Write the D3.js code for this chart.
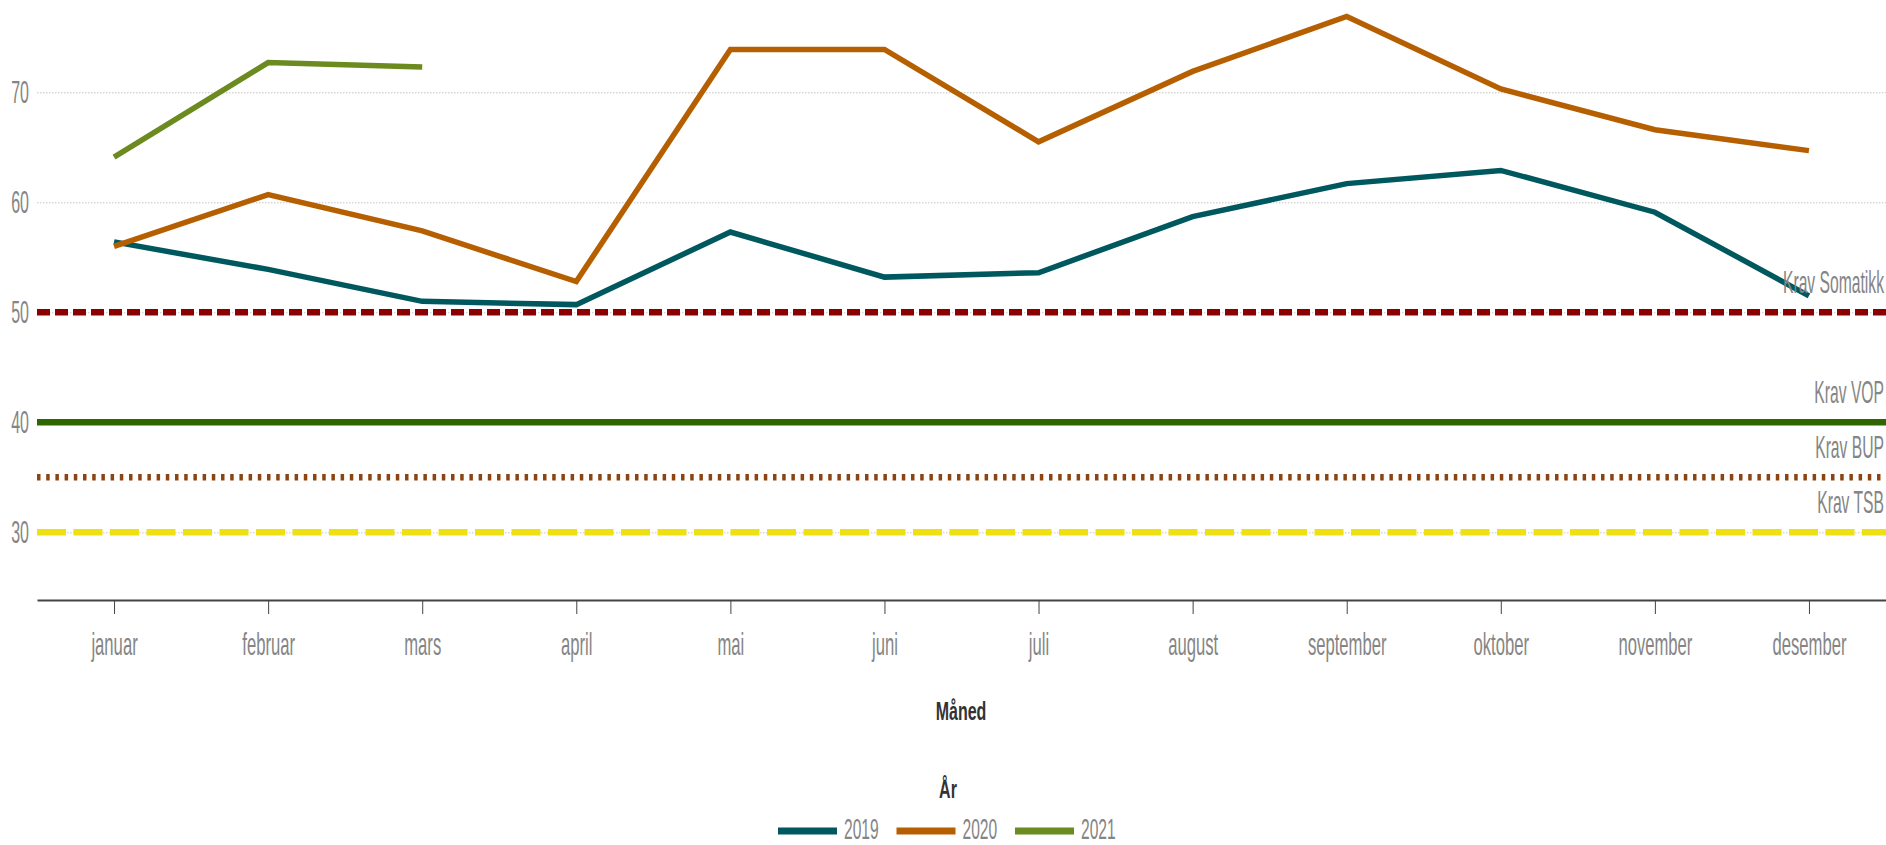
<!DOCTYPE html>
<html>
<head>
<meta charset="utf-8">
<script src="https://cdn.jsdelivr.net/npm/d3@7"></script>
<style>
  body { margin: 0; background: #fff; }
  text { font-family: "Liberation Sans", Arial, sans-serif; }
</style>
</head>
<body>
<svg width="1886" height="845"></svg>
<script>
// data
var maaneder = ['januar', 'februar', 'mars', 'april', 'mai', 'juni', 'juli',
  'august', 'september', 'oktober', 'november', 'desember'];
var aar = ['2019', '2020', '2021'];
var verdier2019 = [56.4, 53.9, 51.0, 50.7, 57.3, 53.2, 53.6, 58.7, 61.7, 62.9, 59.1, 51.5];
var verdier2020 = [56.0, 60.7, 57.4, 52.8, 73.9, 73.9, 65.5, 71.9, 76.9, 70.3, 66.6, 64.7];
var verdier2021 = [64.1, 72.7, 72.3];
var kravNavn = ['Krav Somatikk', 'Krav VOP', 'Krav BUP', 'Krav TSB'];
var kravVerdi = [50, 40, 35, 30];
var yTicks = [30, 40, 50, 60, 70];

var serier = [verdier2019, verdier2020, verdier2021];
var farger = ['#00585f', '#b65f00', '#6b8a1f'];
var kravFarge = ['#8b0000', '#2f6600', '#8b4513', '#efe012'];
var kravDash = ['13,5', null, '3.5,5.7', '29,7.5'];
var grey = '#858585';

var svg = d3.select('svg');
var left = 37, right = 1886;

var x = d3.scalePoint()
  .domain(maaneder)
  .range([left, right])
  .padding(0.5);
var y = d3.scaleLinear()
  .domain([23.85, 78.39])
  .range([600, 0]);

// squeezed text: the chart uses a very narrow font
function label(g, txt, px, py, size, sx, anchor) {
  return g.append('text')
    .attr('transform', 'translate(' + px + ',' + py + ') scale(' + sx + ',1)')
    .attr('text-anchor', anchor)
    .attr('font-size', size)
    .attr('fill', grey)
    .text(txt);
}

// gridlines
var grid = svg.append('g')
  .attr('transform', 'translate(' + left + ',0)')
  .call(d3.axisLeft(y).tickValues(yTicks).tickSize(-(right - left)).tickFormat(''));
grid.select('.domain').remove();
grid.selectAll('line')
  .attr('stroke', '#c4c4c4')
  .attr('stroke-width', 1)
  .attr('stroke-dasharray', '1.5,1.5');

// requirement lines
var krav = svg.append('g');
krav.selectAll('line')
  .data(kravVerdi)
  .enter()
  .append('line')
  .attr('x1', left)
  .attr('x2', right)
  .attr('y1', function (d) { return y(d); })
  .attr('y2', function (d) { return y(d); })
  .attr('stroke', function (d, i) { return kravFarge[i]; })
  .attr('stroke-width', 6.5)
  .attr('stroke-dasharray', function (d, i) { return kravDash[i]; });

// y labels
var yAxis = svg.append('g')
  .attr('transform', 'translate(' + left + ',0)')
  .call(d3.axisLeft(y).tickValues(yTicks).tickSize(0));
yAxis.select('.domain').remove();
yAxis.selectAll('text')
  .attr('x', 0)
  .attr('transform', 'translate(-8,0) scale(0.5,1)')
  .attr('font-size', 32)
  .attr('font-family', '"Liberation Sans", Arial, sans-serif')
  .attr('fill', grey);

// series
var line = d3.line()
  .x(function (d, i) { return x(maaneder[i]); })
  .y(function (d) { return y(d); });
svg.append('g')
  .selectAll('path')
  .data(serier)
  .enter()
  .append('path')
  .attr('d', line)
  .attr('fill', 'none')
  .attr('stroke', function (d, i) { return farger[i]; })
  .attr('stroke-width', 5.5);

// requirement labels
var kravTekst = svg.append('g');
kravNavn.forEach(function (n, i) {
  label(kravTekst, n, 1884, y(kravVerdi[i]) - 19.5, 32, 0.49, 'end');
});

// x axis
var xAxis = svg.append('g')
  .attr('transform', 'translate(0,600)')
  .call(d3.axisBottom(x).tickSize(14).tickSizeOuter(0));
xAxis.select('.domain')
  .attr('stroke', '#444')
  .attr('stroke-width', 2);
xAxis.selectAll('.tick line')
  .attr('stroke', '#444');
xAxis.selectAll('text')
  .attr('y', 0)
  .attr('dy', null)
  .attr('transform', 'translate(0,55) scale(0.52,1)')
  .attr('font-size', 32)
  .attr('font-family', '"Liberation Sans", Arial, sans-serif')
  .attr('fill', grey);

// titles
label(svg, 'Måned', 961, 720, 25, 0.64, 'middle')
  .attr('font-weight', 'bold')
  .attr('fill', '#333');
label(svg, 'År', 948, 798, 25, 0.64, 'middle')
  .attr('font-weight', 'bold')
  .attr('fill', '#333');

// legend
var legend = svg.append('g');
aar.forEach(function (a, i) {
  var lx = 778 + i * 118.5;
  legend.append('line')
    .attr('x1', lx)
    .attr('x2', lx + 59)
    .attr('y1', 831)
    .attr('y2', 831)
    .attr('stroke', farger[i])
    .attr('stroke-width', 7);
  label(legend, a, lx + 66, 839, 30, 0.52, 'start');
});
</script>
</body>
</html>
